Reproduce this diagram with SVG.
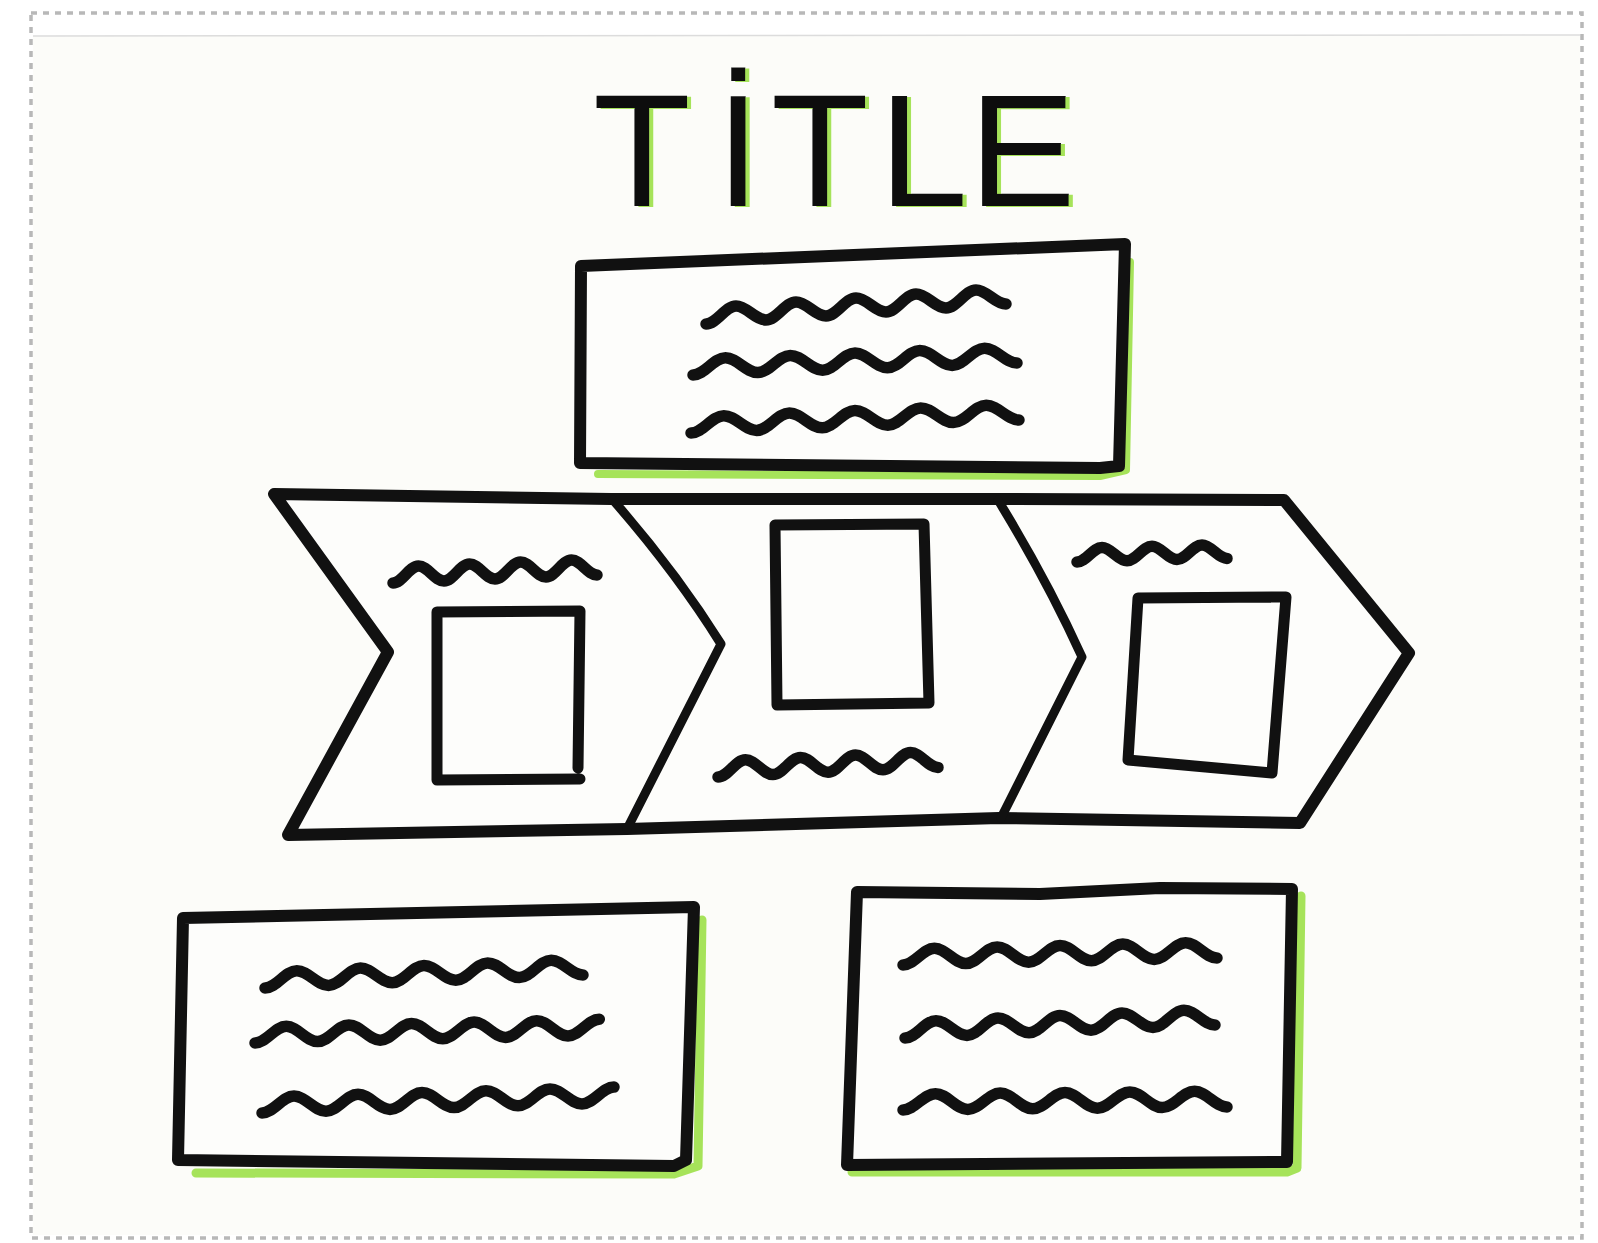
<svg xmlns="http://www.w3.org/2000/svg" width="1598" height="1243" viewBox="0 0 1598 1243">
<defs>
<filter id="greenShadow" x="-10%" y="-10%" width="120%" height="120%">
<feDropShadow dx="4" dy="1" stdDeviation="0" flood-color="#a6e35a" flood-opacity="1"/>
</filter>
</defs>
<style>
.ink{fill:none;stroke:#111;stroke-linecap:round;stroke-linejoin:round}
.box{fill:#fdfdfb;stroke:#111;stroke-width:12;stroke-linecap:round;stroke-linejoin:round}
.wave{fill:none;stroke:#111;stroke-width:11.5;stroke-linecap:round;stroke-linejoin:round}
.hl{fill:none;stroke:#a6e35a;stroke-linecap:round;stroke-linejoin:round}
.ttl{font-family:"Liberation Sans","DejaVu Sans",sans-serif;font-size:160px;fill:#111}
</style>
<rect x="0" y="0" width="1598" height="1243" fill="#ffffff"/>
<rect x="33" y="36" width="1547" height="1199" fill="#fcfcf9"/>
<line x1="33" y1="36" x2="1580" y2="35" stroke="#dcdcdc" stroke-width="1.5"/>
<rect x="31" y="13" width="1551" height="1225" fill="none" stroke="#b8b8b8" stroke-width="3.5" stroke-dasharray="6 6"/>

<g id="title">
<text class="ttl" filter="url(#greenShadow)" x="593 716 771 879 969" y="206">TİTLE</text>
</g>

<g id="top-box">
<path class="hl" stroke-width="8" d="M1130 262 L1126 470 L1100 476 L598 474"/>
<path class="box" d="M581 266 L1125 244 L1119 466 L1100 468 L580 463 Z"/>
<path class="wave" d="M706 324 c10.8 0 19.2 -18 30 -18 s19.2 14 30 14 s19.2 -18 30 -18 s19.2 14 30 14 s19.2 -18 30 -18 s19.2 14 30 14 s19.2 -18 30 -18 s19.2 14 30 14 s19.2 -18 30 -18 s19.2 14 30 14"/>
<path class="wave" d="M693 375 c11.66 0 20.74 -17.2 32.4 -17.2 s20.74 14.8 32.4 14.8 s20.74 -17.2 32.4 -17.2 s20.74 14.8 32.4 14.8 s20.74 -17.2 32.4 -17.2 s20.74 14.8 32.4 14.8 s20.74 -17.2 32.4 -17.2 s20.74 14.8 32.4 14.8 s20.74 -17.2 32.4 -17.2 s20.74 14.8 32.4 14.8"/>
<path class="wave" d="M691 433 c11.8 0 21 -17.3 32.8 -17.3 s21 14.7 32.8 14.7 s21 -17.3 32.8 -17.3 s21 14.7 32.8 14.7 s21 -17.3 32.8 -17.3 s21 14.7 32.8 14.7 s21 -17.3 32.8 -17.3 s21 14.7 32.8 14.7 s21 -17.3 32.8 -17.3 s21 14.7 32.8 14.7"/>
</g>

<g id="process-band">
<path class="box" stroke-width="9" d="M274 494 L611 499 L997 499 L1284 500 L1409 653 L1300 823 L999 818 L627 829 L288 835 L388 652 Z"/>
<path class="ink" stroke-width="9" d="M613 500 Q676 572 721 644 L627 829"/>
<path class="ink" stroke-width="9" d="M998 500 Q1047 580 1082 657 L1001 818"/>
</g>

<g id="stage-1">
<path class="wave" stroke-width="10" d="M393 583 c9.18 0 16.32 -17 25.5 -17 s16.32 15 25.5 15 s16.32 -17 25.5 -17 s16.32 15 25.5 15 s16.32 -17 25.5 -17 s16.32 15 25.5 15 s16.32 -17 25.5 -17 s16.32 15 25.5 15"/>
<path class="ink" stroke-width="11" d="M578 768 L580 611 L437 612 L437 780 L580 779"/>
</g>

<g id="stage-2">
<path class="ink" stroke-width="11" d="M775 525 L924 524 L929 703 L777 705 Z"/>
<path class="wave" stroke-width="10" d="M718 777 c9.9 0 17.6 -17.2 27.5 -17.2 s17.6 14.8 27.5 14.8 s17.6 -17.2 27.5 -17.2 s17.6 14.8 27.5 14.8 s17.6 -17.2 27.5 -17.2 s17.6 14.8 27.5 14.8 s17.6 -17.2 27.5 -17.2 s17.6 14.8 27.5 14.8"/>
</g>

<g id="stage-3">
<path class="wave" stroke-width="10" d="M1077 562 c9 0 16 -14.6 25 -14.6 s16 13.4 25 13.4 s16 -14.6 25 -14.6 s16 13.4 25 13.4 s16 -14.6 25 -14.6 s16 13.4 25 13.4"/>
<path class="ink" stroke-width="11" d="M1138 598 L1286 597 L1272 773 L1128 760 Z"/>
</g>

<g id="bottom-left-box">
<path class="hl" stroke-width="9" d="M702 920 L698 1166 L674 1174 L196 1173"/>
<path class="box" d="M183 918 L694 907 L686 1160 L674 1166 L178 1160 Z"/>
<path class="wave" d="M265 988 c11.45 0 20.35 -17.3 31.8 -17.3 s20.35 14.7 31.8 14.7 s20.35 -17.3 31.8 -17.3 s20.35 14.7 31.8 14.7 s20.35 -17.3 31.8 -17.3 s20.35 14.7 31.8 14.7 s20.35 -17.3 31.8 -17.3 s20.35 14.7 31.8 14.7 s20.35 -17.3 31.8 -17.3 s20.35 14.7 31.8 14.7"/>
<path class="wave" d="M255 1043 c11.27 0 20.03 -16.7 31.3 -16.7 s20.03 15.3 31.3 15.3 s20.03 -16.7 31.3 -16.7 s20.03 15.3 31.3 15.3 s20.03 -16.7 31.3 -16.7 s20.03 15.3 31.3 15.3 s20.03 -16.7 31.3 -16.7 s20.03 15.3 31.3 15.3 s20.03 -16.7 31.3 -16.7 s20.03 15.3 31.3 15.3 s20.03 -16.7 31.3 -16.7"/>
<path class="wave" d="M262 1113 c11.52 0 20.48 -16.9 32 -16.9 s20.48 15.1 32 15.1 s20.48 -16.9 32 -16.9 s20.48 15.1 32 15.1 s20.48 -16.9 32 -16.9 s20.48 15.1 32 15.1 s20.48 -16.9 32 -16.9 s20.48 15.1 32 15.1 s20.48 -16.9 32 -16.9 s20.48 15.1 32 15.1 s20.48 -16.9 32 -16.9"/>
</g>

<g id="bottom-right-box">
<path class="hl" stroke-width="9" d="M1301 896 L1297 1168 L1287 1172 L852 1172"/>
<path class="box" d="M857 892 L1040 894 L1160 888 L1292 889 L1287 1162 L847 1165 Z"/>
<path class="wave" d="M903 965 c11.3 0 20.1 -16.7 31.4 -16.7 s20.1 15.3 31.4 15.3 s20.1 -16.7 31.4 -16.7 s20.1 15.3 31.4 15.3 s20.1 -16.7 31.4 -16.7 s20.1 15.3 31.4 15.3 s20.1 -16.7 31.4 -16.7 s20.1 15.3 31.4 15.3 s20.1 -16.7 31.4 -16.7 s20.1 15.3 31.4 15.3"/>
<path class="wave" d="M905 1038 c11.16 0 19.84 -17.3 31 -17.3 s19.84 14.7 31 14.7 s19.84 -17.3 31 -17.3 s19.84 14.7 31 14.7 s19.84 -17.3 31 -17.3 s19.84 14.7 31 14.7 s19.84 -17.3 31 -17.3 s19.84 14.7 31 14.7 s19.84 -17.3 31 -17.3 s19.84 14.7 31 14.7"/>
<path class="wave" d="M903 1110 c11.66 0 20.74 -16.3 32.4 -16.3 s20.74 15.7 32.4 15.7 s20.74 -16.3 32.4 -16.3 s20.74 15.7 32.4 15.7 s20.74 -16.3 32.4 -16.3 s20.74 15.7 32.4 15.7 s20.74 -16.3 32.4 -16.3 s20.74 15.7 32.4 15.7 s20.74 -16.3 32.4 -16.3 s20.74 15.7 32.4 15.7"/>
</g>
</svg>
